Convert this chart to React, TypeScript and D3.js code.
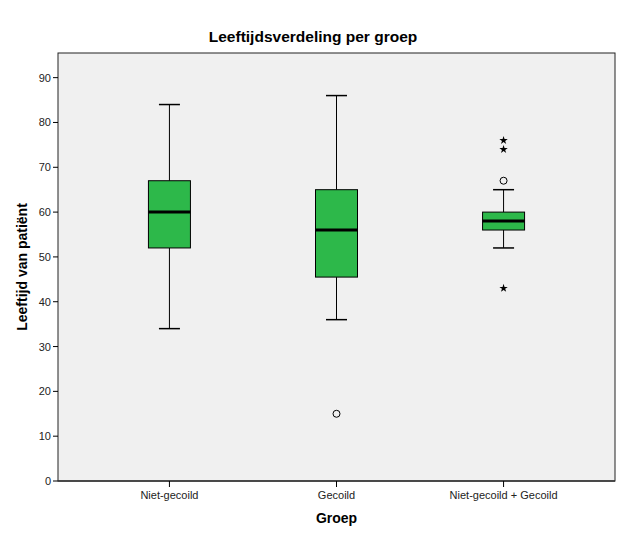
import React from "react";
import * as d3 from "d3";

const categories = ["Niet-gecoïld", "Gecoïld", "Niet-gecoïld + Gecoïld"];
const displayLabels = ["Niet-gecoild", "Gecoild", "Niet-gecoild + Gecoild"];
const whiskerLow = [34, 36, 52];
const q1 = [52, 45.5, 56];
const medians = [60, 56, 58];
const q3 = [67, 65, 60];
const whiskerHigh = [84, 86, 65];
const circleOutliers = [[], [15], [67]];
const starOutliers = [[], [], [76, 74, 43]];
const yTicks = [0, 10, 20, 30, 40, 50, 60, 70, 80, 90];

const W = 626;
const H = 541;
const left = 58;
const right = 615;
const top = 53;
const bottom = 481;
const FONT = "Arial, 'Liberation Sans', sans-serif";

export default function App() {
  const y = d3.scaleLinear().domain([0, 95.5]).range([bottom, top]);
  const x = d3.scalePoint<number>().domain([0, 1, 2]).range([left, right]).padding(0.667);
  const boxW = 42;
  const capW = 21;
  const star = d3.symbol().type(d3.symbolStar).size(22)();

  return (
    <svg width={W} height={H} style={{ position: "absolute", left: 0, top: 0 }}>
      <rect x={0} y={0} width={W} height={H} fill="#ffffff" />
      <rect x={left} y={top} width={right - left} height={bottom - top} fill="#f0f0f0" stroke="#222" strokeWidth={1} />
      <text x={313} y={42} textAnchor="middle" fontFamily={FONT} fontWeight="bold" fontSize={15.5}>
        Leeftijdsverdeling per groep
      </text>
      {yTicks.map((t) => (
        <g key={t}>
          <line x1={left - 5} x2={left} y1={y(t)} y2={y(t)} stroke="#000" />
          <text x={left - 7} y={y(t) + 4} textAnchor="end" fontFamily={FONT} fontSize={11} fill="#222">
            {t}
          </text>
        </g>
      ))}
      <line x1={left} x2={right} y1={bottom} y2={bottom} stroke="#333" strokeWidth={1.5} />
      {categories.map((c, i) => {
        const cx = x(i) as number;
        return (
          <g key={c}>
            <line x1={cx} x2={cx} y1={bottom} y2={bottom + 6} stroke="#000" />
            <text x={cx} y={bottom + 18} textAnchor="middle" fontFamily={FONT} fontSize={11} fill="#222">
              {displayLabels[i]}
            </text>
            <line x1={cx} x2={cx} y1={y(whiskerHigh[i])} y2={y(q3[i])} stroke="#000" />
            <line x1={cx} x2={cx} y1={y(q1[i])} y2={y(whiskerLow[i])} stroke="#000" />
            <line x1={cx - capW / 2} x2={cx + capW / 2} y1={y(whiskerHigh[i])} y2={y(whiskerHigh[i])} stroke="#000" strokeWidth={1.5} />
            <line x1={cx - capW / 2} x2={cx + capW / 2} y1={y(whiskerLow[i])} y2={y(whiskerLow[i])} stroke="#000" strokeWidth={1.5} />
            <rect x={cx - boxW / 2} y={y(q3[i])} width={boxW} height={y(q1[i]) - y(q3[i])} fill="#2db84a" stroke="#000" strokeWidth={1} />
            <line x1={cx - boxW / 2} x2={cx + boxW / 2} y1={y(medians[i])} y2={y(medians[i])} stroke="#000" strokeWidth={3} />
            {circleOutliers[i].map((v, k) => (
              <circle key={k} cx={cx} cy={y(v)} r={3.5} fill="none" stroke="#000" strokeWidth={1} />
            ))}
            {starOutliers[i].map((v, k) => (
              <path key={k} d={star as string} transform={`translate(${cx},${y(v)})`} fill="#000" />
            ))}
          </g>
        );
      })}
      <text x={(left + right) / 2} y={523} textAnchor="middle" fontFamily={FONT} fontWeight="bold" fontSize={14}>
        Groep
      </text>
      <text transform={`translate(27,${(top + bottom) / 2}) rotate(-90)`} textAnchor="middle" fontFamily={FONT} fontWeight="bold" fontSize={14}>
        Leeftijd van patiënt
      </text>
    </svg>
  );
}
